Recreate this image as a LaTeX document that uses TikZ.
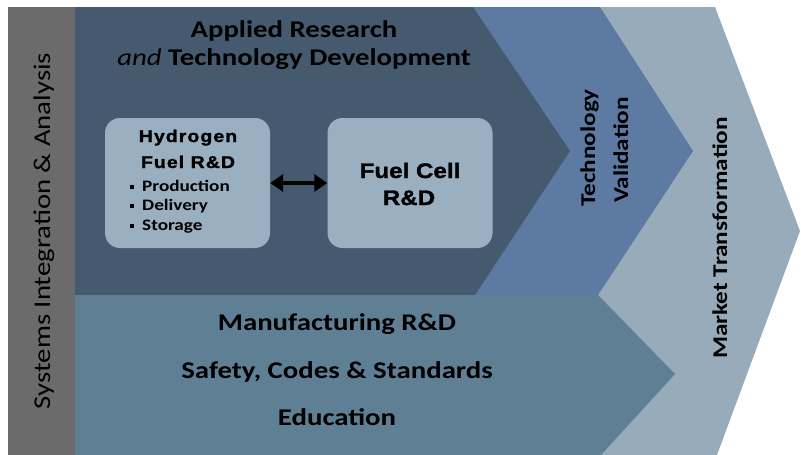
\documentclass[tikz,border=0pt]{standalone}
\usepackage{fontspec}
\setmainfont[FakeStretch=1.2]{Carlito}
\newfontfamily\heavyface[FakeStretch=1.15, FakeBold=1.5]{Liberation Sans}
\usetikzlibrary{arrows.meta}

\definecolor{sysgray}{HTML}{6B6B6B}
\definecolor{researchblue}{HTML}{455A6E}
\definecolor{validblue}{HTML}{5D7AA3}
\definecolor{marketblue}{HTML}{97ABBB}
\definecolor{crossblue}{HTML}{5F7F95}
\definecolor{panelblue}{HTML}{9AAFC0}

\newcommand{\sqbullet}{\rule[2pt]{4pt}{4pt}\hspace{8pt}}

\begin{document}
\begin{tikzpicture}[x=1pt, y=-1pt,
  txt/.style={inner sep=0pt, anchor=base, text=black},
  head/.style={txt, font=\fontsize{24}{28}\selectfont\bfseries},
  side/.style={txt, rotate=90},
  panel/.style={fill=panelblue, rounded corners=15pt, minimum width=165pt, minimum height=130pt, inner sep=0pt},
  paneltitle/.style={txt, font=\heavyface\fontsize{17}{22}\selectfont\bfseries\addfontfeature{LetterSpace=6}},
  panelbig/.style={txt, font=\heavyface\fontsize{21}{25}\selectfont\bfseries},
  item/.style={txt, anchor=base west, font=\fontsize{16}{19}\selectfont\bfseries},
  link/.style={{Triangle[length=13pt,width=17pt]}-{Triangle[length=13pt,width=17pt]}, line width=4.5pt}]

\useasboundingbox (0,0) rectangle (801,455);

\fill[marketblue] (75,7) -- (715,7) -- (800,231) -- (717,455) -- (75,455) -- cycle;
\fill[validblue] (75,7) -- (600,7) -- (693,151) -- (598,295) -- (75,295) -- cycle;
\fill[researchblue] (75,7) -- (473,7) -- (570,151) -- (475,295) -- (75,295) -- cycle;
\fill[crossblue] (75,295) -- (598,295) -- (675,374) -- (601,455) -- (75,455) -- cycle;
\fill[sysgray] (8,7) rectangle (75,455);

\node[side, font=\fontsize{24}{28}\selectfont] (sysint) at (50,231) {Systems Integration \& Analysis};

\node[head] (applied) at (294,37) {Applied Research};
\node[head] (techdev) at (294,65) {{\mdseries\itshape and} Technology Development};

\node[panel] (h2box) at (187.5,183) {};
\node[panel] (fcbox) at (410,183) {};

\node[paneltitle] (h2name) at (188,142) {Hydrogen};
\node[paneltitle] (h2fuel) at (188,168) {Fuel R\&D};
\node[item] (h2prod) at (130,191) {\sqbullet Production};
\node[item] (h2deliv) at (130,210) {\sqbullet Delivery};
\node[item] (h2stor) at (130,230) {\sqbullet Storage};

\node[panelbig] (fcname) at (410,178) {Fuel Cell};
\node[panelbig] (fcrd) at (409,205) {R\&D};

\draw[link] (h2box) -- (fcbox);

\node[side, font=\fontsize{21}{25}\selectfont\bfseries] (techval) at (595,148) {Technology};
\node[side, font=\fontsize{21}{25}\selectfont\bfseries] (validation) at (628,150) {Validation};

\node[side, font=\fontsize{21}{25}\selectfont\bfseries] (market) at (727,238) {Market Transformation};

\node[head] (mfg) at (337,330) {Manufacturing R\&D};
\node[head] (scs) at (337,378) {Safety, Codes \& Standards};
\node[head] (edu) at (337,425) {Education};

\end{tikzpicture}
\end{document}
